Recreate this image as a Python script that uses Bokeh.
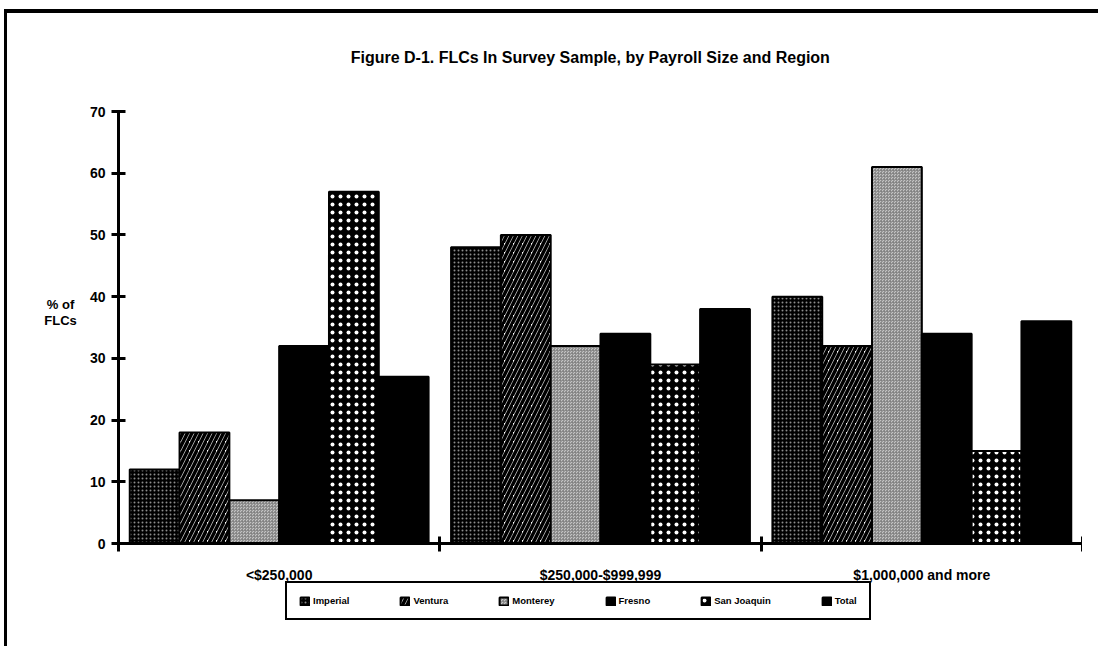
from bokeh.plotting import figure
from bokeh.models import Legend, LegendItem, FixedTicker, Range1d, Label
from bokeh.embed import file_html
from bokeh.resources import INLINE

# ---- data ----
categories = ["<$250,000", "$250,000-$999,999", "$1,000,000 and more"]
regions = ["Imperial", "Ventura", "Monterey", "Fresno", "San Joaquin", "Total"]
imperial = [12, 48, 40]
ventura = [18, 50, 32]
monterey = [7, 32, 61]
fresno = [32, 34, 34]
san_joaquin = [57, 29, 15]
total = [27, 38, 36]
y_ticks = [0, 10, 20, 30, 40, 50, 60, 70]
title_text = "Figure D-1.  FLCs In Survey Sample, by Payroll Size and Region"
y_label_lines = ["% of", "FLCs"]

series = [imperial, ventura, monterey, fresno, san_joaquin, total]

FONT = "Liberation Sans"
W, H = 1082, 630
X0_PX, X3_PX = 118, 1082     # canvas columns of x = 0 and x = 3
Y70_PX, Y0_PX = 111, 543     # canvas rows of y = 70 and y = 0
ppx = (X3_PX - X0_PX) / 3.0
ppu = (Y0_PX - Y70_PX) / 70.0
x_lo = -X0_PX / ppx
x_hi = 3 + (W - X3_PX) / ppx
y_hi = 70 + Y70_PX / ppu
y_lo = -(H - Y0_PX) / ppu


def px_to_x(px):
    return (px - X0_PX) / ppx


def px_to_y(py):
    return (Y0_PX - py) / ppu


p = figure(width=W, height=H, output_backend="svg", toolbar_location=None,
           x_range=Range1d(x_lo, x_hi), y_range=Range1d(y_lo, y_hi),
           min_border=0)

p.grid.visible = False
p.outline_line_color = None

# chart title
p.add_layout(Label(x=px_to_x(592), y=px_to_y(57), text=title_text,
                   text_align="center", text_baseline="middle",
                   text_font=FONT, text_font_style="bold", text_font_size="16px",
                   text_color="black"))

bar_w = 0.155
styles = [
    dict(fill_color="black", hatch_pattern="dot", hatch_color="white", hatch_scale=4, hatch_weight=1, hatch_alpha=0.55),
    dict(fill_color="white", hatch_pattern="right_diagonal_line", hatch_color="black", hatch_scale=9, hatch_weight=3.5),
    dict(fill_color="#c4c4c4", hatch_pattern="criss_cross", hatch_color="#808080", hatch_scale=3, hatch_weight=0.7),
    dict(fill_color="black"),
    dict(fill_color="black", hatch_pattern="dot", hatch_color="white", hatch_scale=8, hatch_weight=2.5),
    dict(fill_color="black"),
]

items = []
for k, (name, vals, st) in enumerate(zip(regions, series, styles)):
    xs = [i + 0.5 + (k - 2.5) * bar_w for i in range(len(categories))]
    r = p.vbar(x=xs, top=vals, bottom=0, width=bar_w, line_color="black", line_width=2, **st)
    items.append(LegendItem(label=name, renderers=[r]))

# y axis, drawn at x = 0 inside the frame
ya = p.yaxis[0]
ya.fixed_location = 0
ya.ticker = FixedTicker(ticks=y_ticks, minor_ticks=[])
ya.bounds = (0, 70)
ya.axis_line_width = 3
ya.axis_line_color = "black"
ya.major_tick_line_width = 3
ya.major_tick_line_color = "black"
ya.major_tick_in = 7
ya.major_tick_out = 7
ya.minor_tick_line_color = None
ya.major_label_text_font = FONT
ya.major_label_text_font_style = "bold"
ya.major_label_text_font_size = "14px"
ya.major_label_text_color = "black"
ya.major_label_standoff = 6

# y axis title
for j, line in enumerate(y_label_lines):
    p.add_layout(Label(x=px_to_x(60), y=px_to_y(304 + 16 * j), text=line,
                       text_align="center", text_baseline="middle",
                       text_font=FONT, text_font_style="bold", text_font_size="13px",
                       text_color="black"))

# x axis, drawn at y = 0 inside the frame
xa = p.xaxis[0]
xa.fixed_location = 0
xa.bounds = (0, 3)
xa.ticker = FixedTicker(ticks=[0.5, 1.5, 2.5], minor_ticks=[0, 1, 2, 3])
xa.major_label_overrides = {0.5: categories[0], 1.5: categories[1], 2.5: categories[2]}
xa.axis_line_width = 3
xa.axis_line_color = "black"
xa.major_tick_line_color = None
xa.major_tick_in = 0
xa.major_tick_out = 0
xa.minor_tick_line_width = 3
xa.minor_tick_line_color = "black"
xa.minor_tick_in = 7
xa.minor_tick_out = 8
xa.major_label_text_font = FONT
xa.major_label_text_font_style = "bold"
xa.major_label_text_font_size = "14px"
xa.major_label_text_color = "black"
xa.major_label_standoff = 15

legend = Legend(items=items, orientation="horizontal", location=(285, 10),
                border_line_color="black", border_line_width=2, border_line_alpha=1.0,
                background_fill_alpha=1.0,
                label_text_font=FONT, label_text_font_style="bold", label_text_font_size="9.5px",
                label_text_color="black",
                glyph_width=11, glyph_height=10, label_standoff=3,
                spacing=50, padding=12, margin=0)
p.add_layout(legend, "center")

html = file_html(p, INLINE)
frame_css = ('<div style="position:fixed;left:4px;top:9px;width:1094px;height:4px;background:#000;z-index:10"></div>'
             '<div style="position:fixed;left:4px;top:9px;width:3px;height:637px;background:#000;z-index:10"></div>')
cut = html.rfind("</body>")
if cut != -1:
    html = html[:cut] + frame_css + html[cut:]
open("out.html", "w").write(html)
